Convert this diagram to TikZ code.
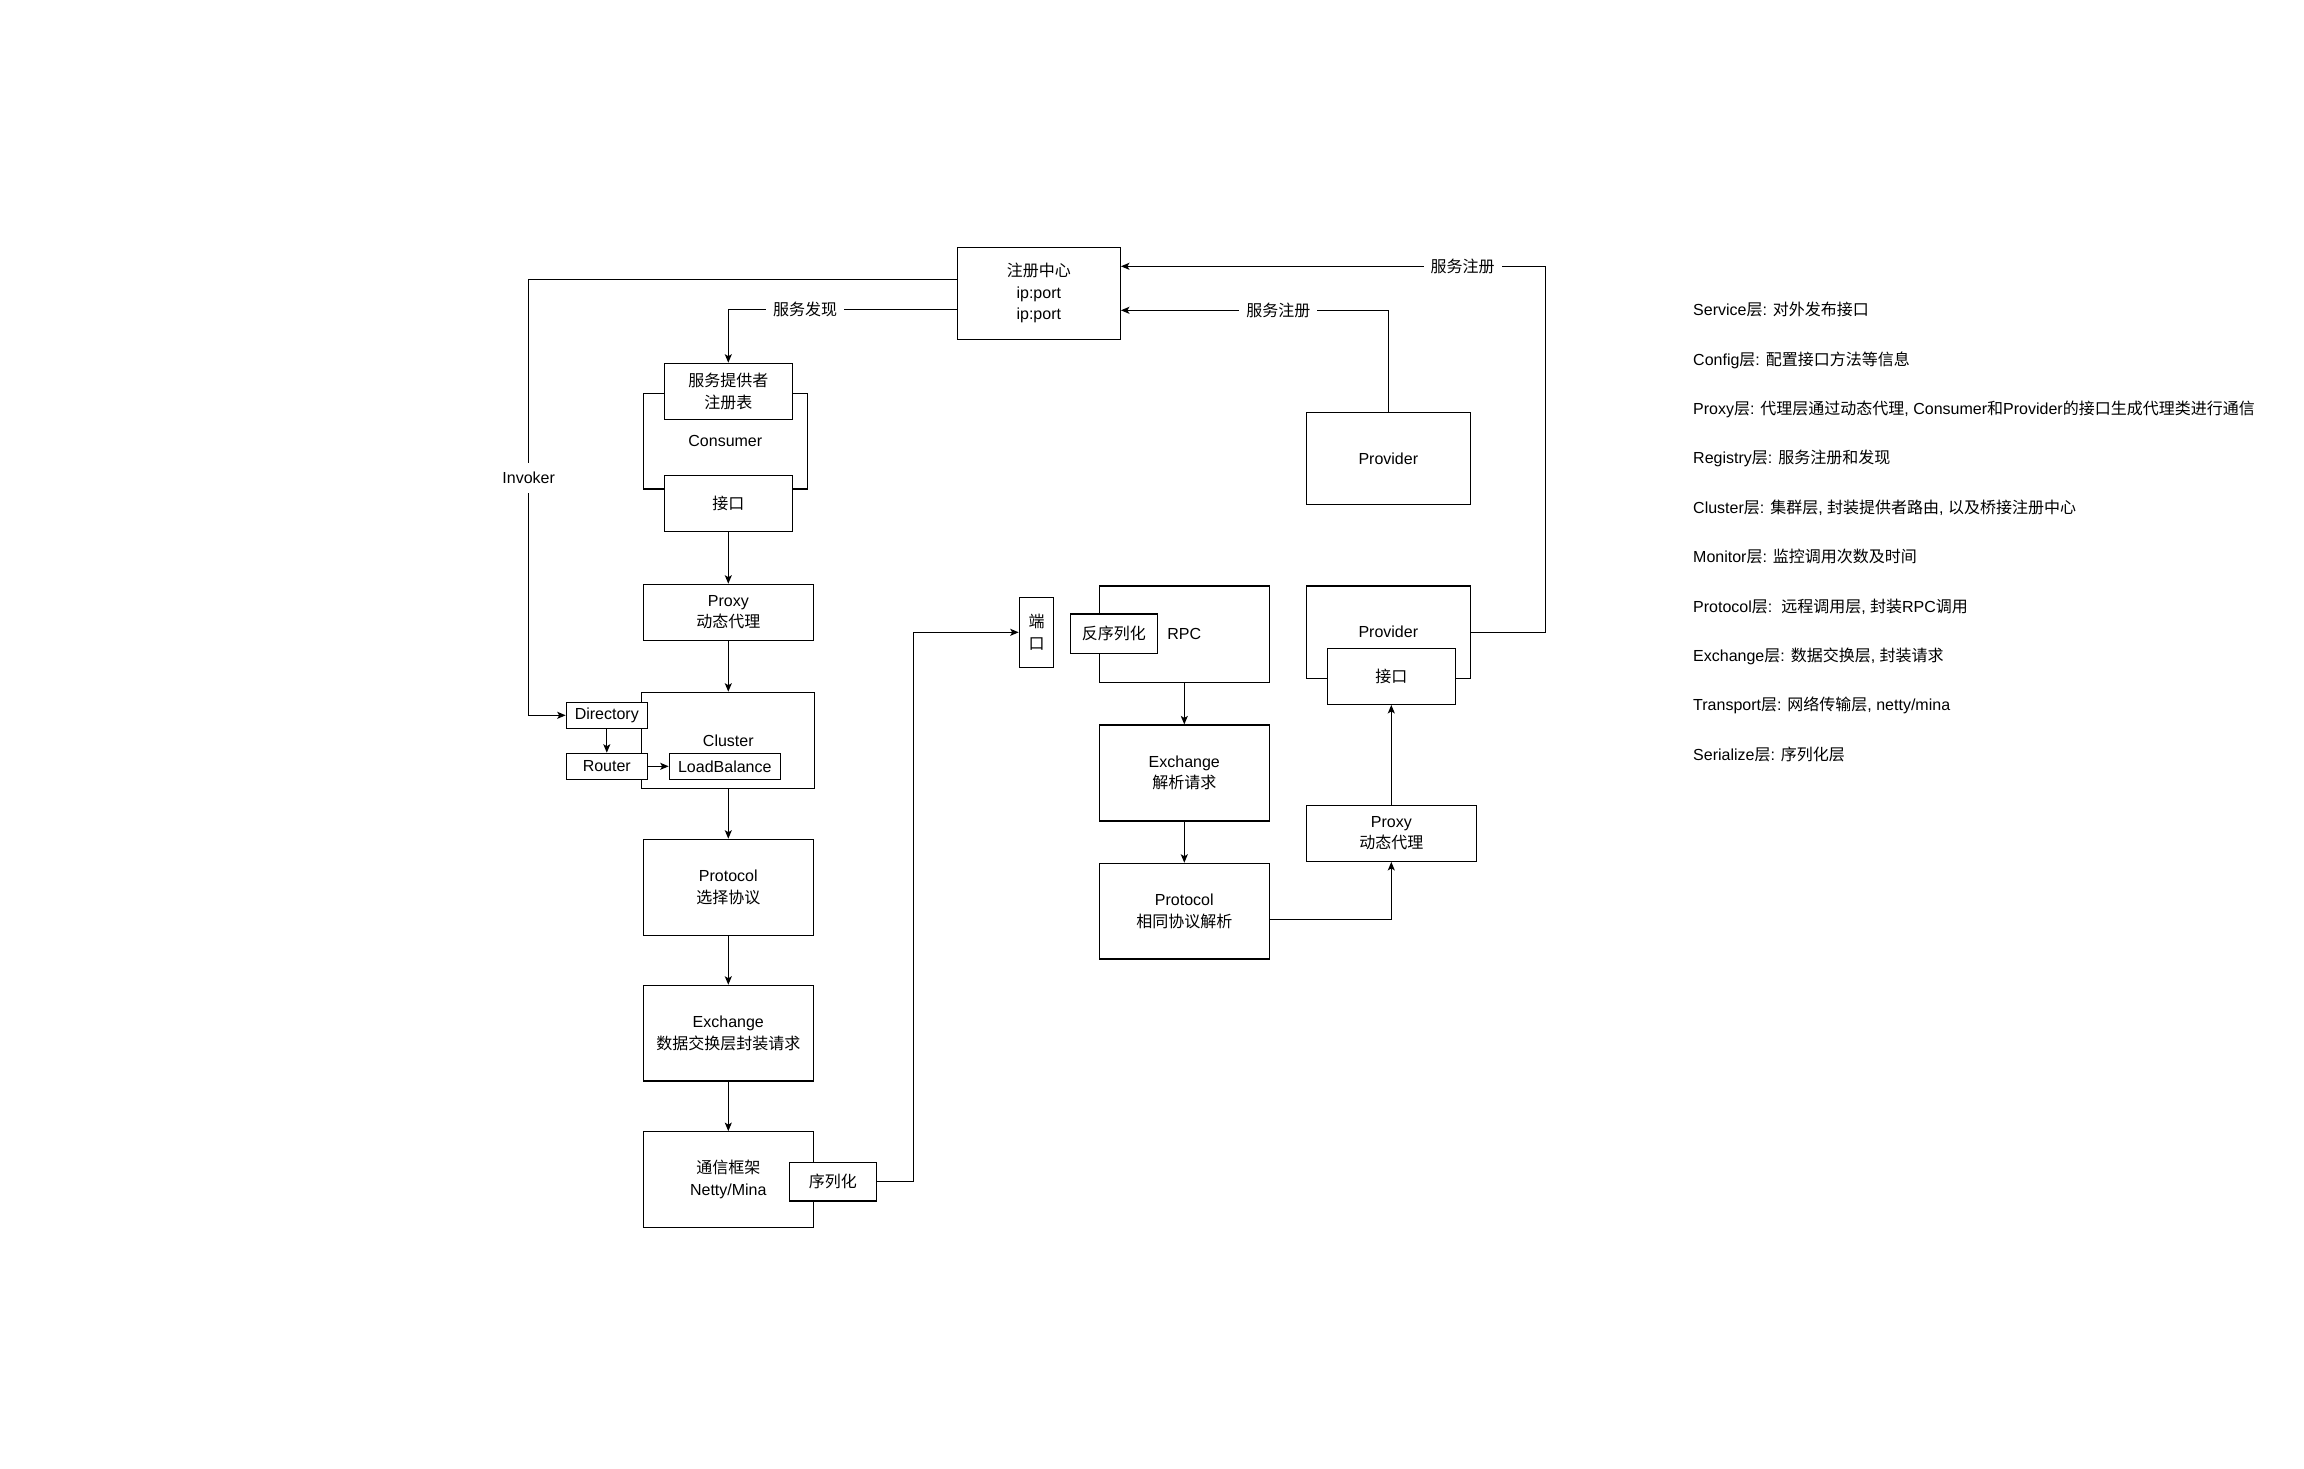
\documentclass[tikz,border=0pt]{standalone}
\usepackage{fontspec}
\setmainfont{Liberation Sans}
\newfontfamily\cjk{Noto Sans CJK SC}
\usetikzlibrary{arrows.meta}
\newcommand{\zh}[1]{{\cjk #1}}
\begin{document}
\begin{tikzpicture}[x=1pt,y=-1pt,
  font=\fontsize{16}{21.5}\selectfont,
  box/.style={draw, line width=1.2pt, fill=white, inner sep=0pt, align=center},
  sz/.style 2 args={minimum width=#1pt, minimum height=#2pt},
  arr/.style={line width=1.2pt, -{Stealth[length=8.5pt,width=7pt,inset=2pt]}},
  ln/.style={line width=1.2pt},
  lbl/.style={fill=white, inner xsep=7pt, inner ysep=2pt},
  note/.style={anchor=west, inner sep=0pt, text height=12pt, text depth=4pt}]
\fill[white] (0,0) rectangle (2304,1468);
\useasboundingbox (0,0) rectangle (2304,1468);

% frames
\node[box, sz={164}{95.7}] (cons) at (725.3,441.2) {Consumer};
\node[box, sz={173}{96}] (cluster) at (728.3,740.3) {Cluster};
\node[box, sz={170}{95.6}] (net) at (728.3,1179.5) {\zh{通信框架}\\Netty/Mina};
\node[box, sz={170}{96.3}] (rpc) at (1184.3,634.2) {RPC};
\node[box, sz={164}{92.3}] (prov2) at (1388.3,632.2) {Provider};

% boxes
\node[box, sz={163}{92}] (reg) at (1038.8,293.3) {\zh{注册中心}\\ip:port\\ip:port};
\node[box, sz={164}{92}] (prov) at (1388.3,458.3) {Provider};
\node[box, sz={128}{56}] (spr) at (728.3,391.3) {\zh{服务提供者}\\\zh{注册表}};
\node[box, sz={128}{56}] (ifc) at (728.3,503.3) {\zh{接口}};
\node[box, sz={170}{56}] (proxy) at (728.3,612.3) {Proxy\\\zh{动态代理}};
\node[box, sz={81}{26}] (dir) at (606.8,715.3) {Directory};
\node[box, sz={81}{26}] (router) at (606.8,766.3) {Router};
\node[box, sz={111}{26}] (lb) at (724.8,766.3) {LoadBalance};
\node[box, sz={170}{96}] (proto) at (728.3,887.3) {Protocol\\\zh{选择协议}};
\node[box, sz={170}{95.7}] (exch) at (728.3,1033.2) {Exchange\\\zh{数据交换层封装请求}};
\node[box, sz={87}{38.7}] (ser) at (832.8,1181.7) {\zh{序列化}};
\node[box, sz={34.4}{70}] (port) at (1036.5,632.3) {\zh{端}\\\zh{口}};
\node[box, sz={87}{39.3}] (deser) at (1113.8,633.7) {\zh{反序列化}};
\node[box, sz={170}{96}] (exch2) at (1184.3,773) {Exchange\\\zh{解析请求}};
\node[box, sz={170}{95.7}] (proto2) at (1184.3,911.2) {Protocol\\\zh{相同协议解析}};
\node[box, sz={128}{56}] (ifc2) at (1391.3,676.3) {\zh{接口}};
\node[box, sz={170}{56}] (proxy2) at (1391.3,833.3) {Proxy\\\zh{动态代理}};

% bend coordinates
\coordinate (invk) at (528.7,477.7);
\coordinate (sb) at (913.3,0);
\coordinate (pb) at (1545.3,450);

% connectors
\draw[arr] ([yshift=14pt]reg.west) -| (invk) |- (dir.west);
\draw[arr] ([yshift=-16pt]reg.west) -| (spr.north);
\draw[arr] (ifc.south) -- (proxy.north);
\draw[arr] (proxy.south) -- (cluster.north);
\draw[arr] (cluster.south) -- (proto.north);
\draw[arr] (proto.south) -- (exch.north);
\draw[arr] (exch.south) -- (net.north);
\draw[arr] (dir.south) -- (router.north);
\draw[arr] (router.east) -- (lb.west);
\draw[arr] (ser.east) -| (sb |- port.west) -- (port.west);
\draw[arr] (rpc.south) -- (exch2.north);
\draw[arr] (exch2.south) -- (proto2.north);
\draw[arr] ([yshift=-8pt]proto2.east) -| (proxy2.south);
\draw[arr] (proxy2.north) -- (ifc2.south);
\draw[arr] (prov2.east) -| (pb) |- ([yshift=27pt]reg.east);
\draw[arr] (prov.north) |- ([yshift=-17pt]reg.east);

% connector labels
\node[lbl] (l1) at (805,309.3) {\zh{服务发现}};
\node[lbl] (l2) at (1278.3,310.3) {\zh{服务注册}};
\node[lbl] (l3) at (1462.7,266.3) {\zh{服务注册}};
\node[lbl, inner ysep=9pt, inner xsep=2pt] (l4) at (invk) {Invoker};

% notes
\node[note] (n0) at (1693,311.7) {Service\zh{层}: \zh{对外发布接口}};
\node[note] (n1) at (1693,361.1) {Config\zh{层}: \zh{配置接口方法等信息}};
\node[note] (n2) at (1693,410.5) {Proxy\zh{层}: \zh{代理层通过动态代理}, Consumer\zh{和}Provider\zh{的接口生成代理类进行通信}};
\node[note] (n3) at (1693,459.9) {Registry\zh{层}: \zh{服务注册和发现}};
\node[note] (n4) at (1693,509.3) {Cluster\zh{层}: \zh{集群层}, \zh{封装提供者路由}, \zh{以及桥接注册中心}};
\node[note] (n5) at (1693,558.7) {Monitor\zh{层}: \zh{监控调用次数及时间}};
\node[note] (n6) at (1693,608.1) {Protocol\zh{层}:\ \ \zh{远程调用层}, \zh{封装}RPC\zh{调用}};
\node[note] (n7) at (1693,657.5) {Exchange\zh{层}: \zh{数据交换层}, \zh{封装请求}};
\node[note] (n8) at (1693,706.9) {Transport\zh{层}: \zh{网络传输层}, netty/mina};
\node[note] (n9) at (1693,756.3) {Serialize\zh{层}: \zh{序列化层}};
\end{tikzpicture}
\end{document}
